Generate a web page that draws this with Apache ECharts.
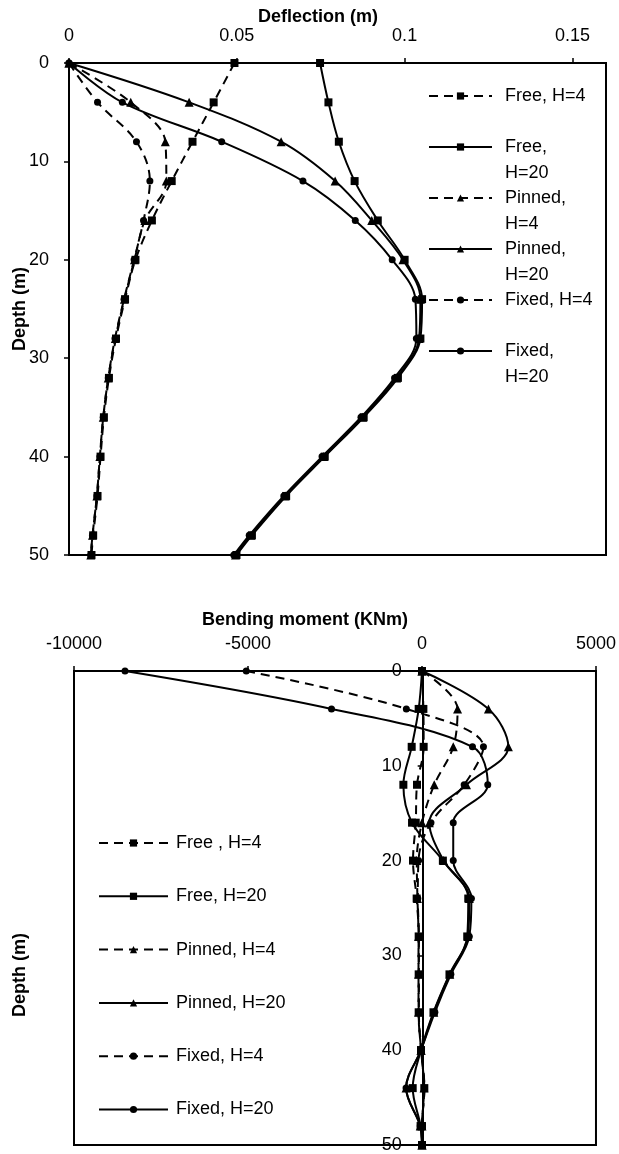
<!DOCTYPE html>
<html>
<head>
<meta charset="utf-8">
<script src="https://cdn.jsdelivr.net/npm/echarts@6/dist/echarts.min.js"></script>
<style>
  html, body { margin: 0; padding: 0; background: #fff; }
  #chart { width: 619px; height: 1154px; }
</style>
</head>
<body>
<div id="chart"></div>
<script>
// Pile response along depth: deflection (top) and bending moment (bottom)

const depths = [0, 4, 8, 12, 16, 20, 24, 28, 32, 36, 40, 44, 48, 50];

// Deflection (m)
const deflFreeH4    = [0.0493, 0.0431, 0.0368, 0.0306, 0.0247, 0.0198, 0.0167, 0.0140, 0.0119, 0.0104, 0.0094, 0.0085, 0.0072, 0.0067];
const deflFreeH20   = [0.0748, 0.0773, 0.0804, 0.0851, 0.0920, 0.1000, 0.1052, 0.1047, 0.0980, 0.0878, 0.0762, 0.0647, 0.0545, 0.0499];
const deflPinnedH4  = [0, 0.0184, 0.0287, 0.0290, 0.0226, 0.0195, 0.0165, 0.0138, 0.0117, 0.0102, 0.0092, 0.0083, 0.0070, 0.0065];
const deflPinnedH20 = [0, 0.0358, 0.0632, 0.0793, 0.0902, 0.0995, 0.1047, 0.1043, 0.0976, 0.0875, 0.0759, 0.0644, 0.0542, 0.0496];
const deflFixedH4   = [0, 0.0085, 0.0201, 0.0241, 0.0222, 0.0194, 0.0164, 0.0137, 0.0117, 0.0102, 0.0092, 0.0083, 0.0070, 0.0065];
const deflFixedH20  = [0, 0.0159, 0.0455, 0.0697, 0.0853, 0.0963, 0.1032, 0.1035, 0.0970, 0.0870, 0.0754, 0.0640, 0.0537, 0.0491];

// Bending moment (KNm)
const momFreeH4    = [0, 40, 48, -143, -180, -258, -153, -95, -95, -95, -29, 67, 0, 0];
const momFreeH20   = [0, -95, -296, -535, -286, 600, 1330, 1300, 790, 330, -29, -267, -40, 0];
const momPinnedH4  = [0, 1022, 898, 353, 0, -150, -130, -100, -100, -100, -25, 60, 0, 0];
const momPinnedH20 = [0, 1909, 2482, 1279, 210, 621, 1360, 1320, 800, 340, -29, -458, -50, 0];
const momFixedH4   = [-5050, -450, 1766, 1212, 258, -100, -120, -90, -90, -90, -20, 70, 0, 0];
const momFixedH20  = [-8534, -2600, 1451, 1890, 898, 898, 1420, 1360, 830, 370, -29, -458, -50, 0];

// Axis ranges and tick steps
const deflRange = [0, 0.16],       deflStep = 0.05;
const momRange  = [-10000, 5000],  momStep  = 5000;
const depthRange = [0, 50],        depthStep = 10;

// Series names as shown in each legend
const deflNames   = ['Free, H=4', 'Free, H=20', 'Pinned, H=4', 'Pinned, H=20', 'Fixed, H=4', 'Fixed, H=20'];
const deflLegend  = ['Free, H=4', 'Free,\nH=20', 'Pinned,\nH=4', 'Pinned,\nH=20', 'Fixed, H=4', 'Fixed,\nH=20'];
const momNames    = ['Free , H=4', 'Free, H=20', 'Pinned, H=4', 'Pinned, H=20', 'Fixed, H=4', 'Fixed, H=20'];

const deflValues = [deflFreeH4, deflFreeH20, deflPinnedH4, deflPinnedH20, deflFixedH4, deflFixedH20];
const momValues  = [momFreeH4, momFreeH20, momPinnedH4, momPinnedH20, momFixedH4, momFixedH20];

// Marker / line style per support condition and H
const styles = [
  { symbol: 'rect',     size: 8, dashed: true  },
  { symbol: 'rect',     size: 8, dashed: false },
  { symbol: 'triangle', size: 9, dashed: true  },
  { symbol: 'triangle', size: 9, dashed: false },
  { symbol: 'circle',   size: 7, dashed: true  },
  { symbol: 'circle',   size: 7, dashed: false }
];

const FONT = '"Liberation Sans", Arial, sans-serif';
const BLACK = '#000';

// Plot rectangles
const topGrid = { left: 69, top: 63, width: 537, height: 492 };
const botGrid = { left: 74, top: 671, width: 523, height: 481 };

function makeSeries(names, values, gridIdx) {
  return names.map((name, i) => ({
    name: name,
    type: 'line',
    xAxisIndex: gridIdx,
    yAxisIndex: gridIdx,
    data: depths.map((d, k) => [values[i][k], d]),
    symbol: styles[i].symbol,
    symbolSize: styles[i].size,
    showAllSymbol: true,
    smooth: 0.35,
    lineStyle: { color: BLACK, width: 2, type: styles[i].dashed ? [9, 6] : 'solid' },
    itemStyle: { color: BLACK, borderWidth: 0 },
    emphasis: { disabled: true },
    animation: false
  }));
}

function numLabel(v) {
  return String(+v.toFixed(4));
}

function valueAxisX(gridIdx, range, step) {
  return {
    gridIndex: gridIdx, type: 'value', position: 'top',
    min: range[0], max: range[1], interval: step,
    axisLine: { show: true, onZero: false, lineStyle: { color: BLACK, width: 2 } },
    axisTick: { show: true, length: 5, lineStyle: { color: BLACK, width: 1.5 } },
    axisLabel: { margin: 18, color: BLACK, fontSize: 18, fontFamily: FONT,
                 showMaxLabel: Math.abs(range[1] / step - Math.round(range[1] / step)) < 1e-9,
                 formatter: numLabel },
    splitLine: { show: false }
  };
}

// offset shifts the depth axis rightwards from the plot's left edge
function depthAxis(gridIdx, offset, margin) {
  return {
    gridIndex: gridIdx, type: 'value', inverse: true,
    min: depthRange[0], max: depthRange[1], interval: depthStep,
    position: 'left', offset: -offset,
    axisLine: { show: true, onZero: false, lineStyle: { color: BLACK, width: 2 } },
    axisTick: { show: true, length: 5, lineStyle: { color: BLACK, width: 1.5 } },
    axisLabel: { margin: margin, color: BLACK, fontSize: 18, fontFamily: FONT, formatter: numLabel },
    splitLine: { show: false }
  };
}

// bottom depth axis crosses the moment axis at zero
const zeroOffset = (0 - momRange[0]) / (momRange[1] - momRange[0]) * botGrid.width;

// Top chart legend: one block per entry so wrapped names keep a fixed row pitch
const topLegendFirstRow = 96, topLegendPitch = 51, topLegendLine = 26;
const topLegends = deflNames.map((name, i) => {
  const parts = deflLegend[i].split('\n');
  // a blank leading line keeps the first text line level with the icon
  const text = parts.length > 1 ? '\n' + parts.join('\n') : parts[0];
  const nLines = text.split('\n').length;
  const iconY = topLegendFirstRow + i * topLegendPitch;
  return {
    data: [name],
    orient: 'vertical',
    left: 428,
    top: iconY - nLines * topLegendLine / 2,
    padding: 0,
    itemWidth: 63,
    itemHeight: 9,
    selectedMode: false,
    formatter: () => text,
    textStyle: {
      fontFamily: FONT, fontSize: 18, color: BLACK, lineHeight: topLegendLine,
      padding: [0, 0, 0, 8]
    }
  };
});

const bottomLegendFirstRow = 843, bottomLegendPitch = 53.3, bottomLegendLine = 22;
const bottomLegend = {
  data: momNames,
  orient: 'vertical',
  left: 98,
  top: bottomLegendFirstRow - bottomLegendLine / 2,
  padding: 0,
  itemGap: bottomLegendPitch - bottomLegendLine,
  itemWidth: 69,
  itemHeight: 9,
  selectedMode: false,
  textStyle: { fontFamily: FONT, fontSize: 18, color: BLACK, lineHeight: bottomLegendLine, padding: [0, 0, 0, 3] }
};

function label(text, x, y, rotate) {
  return {
    type: 'text', x: x, y: y, rotation: rotate ? Math.PI / 2 : 0,
    style: { text: text, font: 'bold 18px ' + FONT, fill: BLACK,
             align: 'center', verticalAlign: 'middle',
             textAlign: 'center', textVerticalAlign: 'middle' }
  };
}

const chart = echarts.init(document.getElementById('chart'), null, { renderer: 'canvas' });
chart.setOption({
  animation: false,
  backgroundColor: '#fff',
  grid: [
    Object.assign({ show: true, borderColor: BLACK, borderWidth: 2, backgroundColor: 'transparent' }, topGrid),
    Object.assign({ show: true, borderColor: BLACK, borderWidth: 2, backgroundColor: 'transparent' }, botGrid)
  ],
  xAxis: [ valueAxisX(0, deflRange, deflStep), valueAxisX(1, momRange, momStep) ],
  yAxis: [ depthAxis(0, 0, 20), depthAxis(1, zeroOffset, 21) ],
  legend: topLegends.concat([bottomLegend]),
  graphic: [
    label('Deflection (m)', 318, 17, false),
    label('Depth (m)', 20, 309, true),
    label('Bending moment (KNm)', 305, 620, false),
    label('Depth (m)', 20, 975, true)
  ],
  series: makeSeries(deflNames, deflValues, 0).concat(makeSeries(momNames, momValues, 1))
});
</script>
</body>
</html>
